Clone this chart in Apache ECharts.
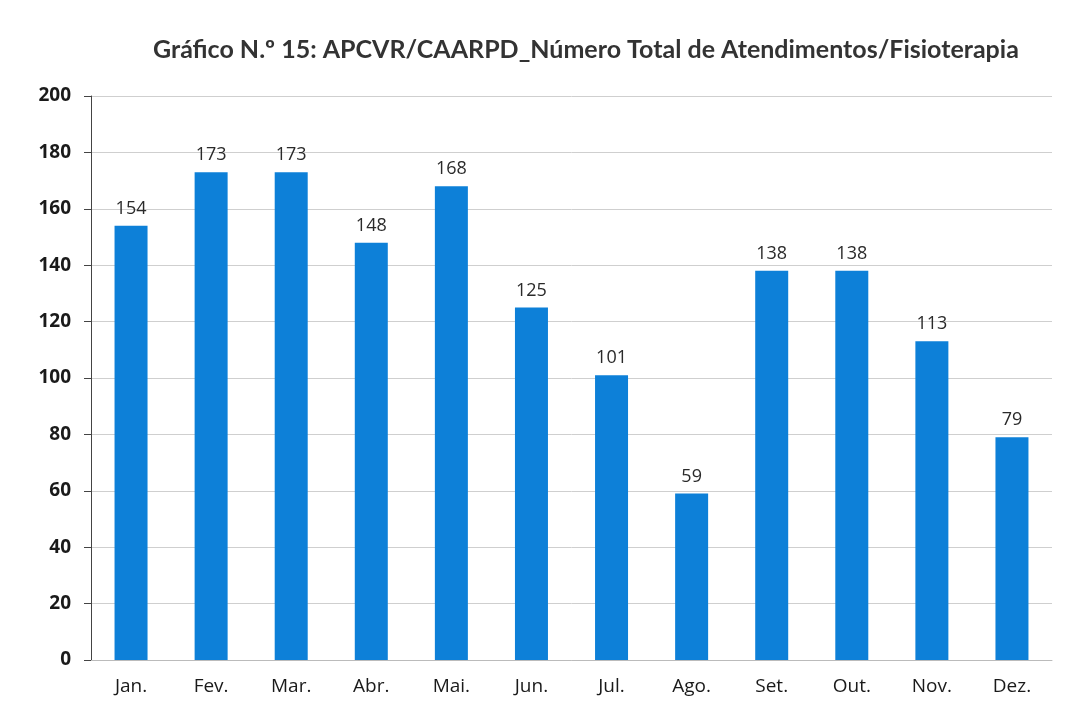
<!DOCTYPE html>
<html><head><meta charset="utf-8">
<script src="https://cdn.jsdelivr.net/npm/echarts@6/dist/echarts.min.js"></script>
<style>html,body{margin:0;padding:0;background:#fff}#c{width:1083px;height:718px}</style>
</head><body><div id="c"></div>
<script>
const titleText = 'Gráfico N.º 15: APCVR/CAARPD_Número Total de Atendimentos/Fisioterapia';
const months = ['Jan.','Fev.','Mar.','Abr.','Mai.','Jun.','Jul.','Ago.','Set.','Out.','Nov.','Dez.'];
const atendimentos = [154,173,173,148,168,125,101,59,138,138,113,79];

const chart = echarts.init(document.getElementById('c'));
chart.setOption({
  animation:false,
  backgroundColor:'#fff',
  title:{text:titleText,left:148,top:32,textStyle:{fontFamily:'Lato',fontWeight:'bold',fontSize:25,color:'#333'}},
  grid:{left:91,right:31,top:96,bottom:58},
  xAxis:{type:'category',data:months,
    axisLine:{lineStyle:{color:'#bbb'}},axisTick:{show:false},
    axisLabel:{fontFamily:'Open Sans',fontSize:19,color:'#1a1a1a',margin:17}},
  yAxis:{type:'value',min:0,max:200,interval:20,
    axisLine:{show:true,lineStyle:{color:'#444'}},
    axisTick:{show:true,inside:false,length:7,lineStyle:{color:'#444'}},
    splitLine:{lineStyle:{color:'#cfcfcf'}},
    axisLabel:{fontFamily:'Open Sans',fontWeight:'bold',fontSize:19,color:'#1a1a1a',margin:20}},
  series:[{type:'bar',data:atendimentos,barWidth:33,
    itemStyle:{color:'#0d80d8'},
    label:{show:true,position:'top',distance:8,fontFamily:'Open Sans',fontSize:18,color:'#2a2a2a'}}]
});
</script></body></html>
